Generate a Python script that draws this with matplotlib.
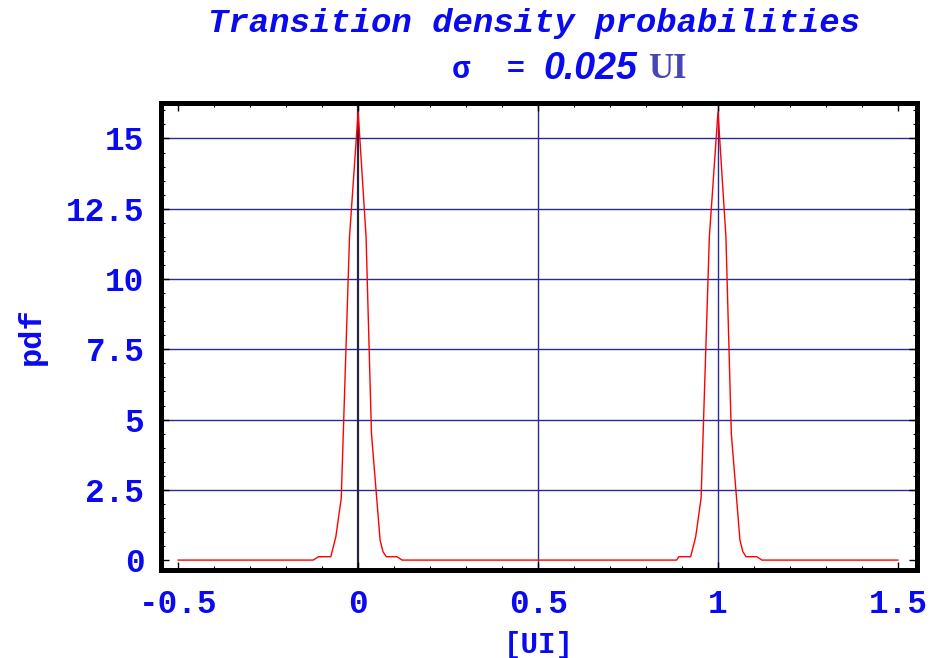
import matplotlib
matplotlib.use('Agg')
import matplotlib.pyplot as plt
from matplotlib.ticker import MultipleLocator

# transition density (two peaks at 0 and 1 UI)
ui = [-0.5, -0.125, -0.11, -0.076, -0.062, -0.047, -0.024, 0.0, 0.022, 0.037,
      0.061, 0.069, 0.078, 0.108, 0.122,
      0.885, 0.891, 0.924, 0.938, 0.953, 0.976, 1.0, 1.022, 1.037,
      1.061, 1.069, 1.078, 1.108, 1.122, 1.5]
pdf = [0.0, 0.0, 0.12, 0.12, 0.83, 2.2, 11.5, 15.95, 11.5, 4.5,
       0.71, 0.3, 0.12, 0.12, 0.0,
       0.0, 0.12, 0.12, 0.83, 2.2, 11.5, 15.95, 11.5, 4.5,
       0.71, 0.3, 0.12, 0.12, 0.0, 0.0]

x_ticks = [-0.5, 0, 0.5, 1, 1.5]
x_tick_labels = ['-0.5', '0', '0.5', '1', '1.5']
y_ticks = [0, 2.5, 5, 7.5, 10, 12.5, 15]
y_tick_labels = ['0', '2.5', '5', '7.5', '10', '12.5', '15']
h_grid = [2.5, 5, 7.5, 10, 12.5, 15]
v_grid = [0.5, 1]

blue = '#0a0af0'
mono = 'Liberation Mono'

fig = plt.figure(figsize=(9.32, 6.58), dpi=100)
ax = fig.add_axes([0.1727, 0.1330, 0.8112, 0.7112])

for y in h_grid:
    ax.axhline(y, color='#2a2a90', lw=1.0, zorder=1)
for x in v_grid:
    ax.axvline(x, color='#2a2a90', lw=1.0, zorder=1)
ax.axvline(0, color='#262640', lw=1.6, zorder=1)

ax.plot(ui, pdf, color='red', lw=1.0, zorder=3)

ax.set_xlim(-0.548, 1.553)
ax.set_ylim(-0.37, 16.28)
ax.set_xticks(x_ticks)
ax.set_xticklabels(x_tick_labels)
ax.set_yticks(y_ticks)
ax.set_yticklabels(y_tick_labels)
ax.xaxis.set_minor_locator(MultipleLocator(0.1))
ax.yaxis.set_minor_locator(MultipleLocator(0.5))
ax.tick_params(which='both', direction='in', top=True, right=True, color='black')
ax.tick_params(axis='x', which='major', length=6, width=1, pad=13)
ax.tick_params(axis='y', which='major', length=6, width=1, pad=12)
ax.tick_params(which='minor', length=3, width=0.8)
for lab in ax.get_xticklabels() + ax.get_yticklabels():
    lab.set_family(mono)
    lab.set_weight('bold')
    lab.set_color(blue)
    lab.set_fontsize(23.5)
for s in ax.spines.values():
    s.set_linewidth(3.6)
    s.set_color('black')

ax.set_xlabel('[UI]', family=mono, weight='bold', color=blue, fontsize=21, labelpad=8)
ax.set_ylabel('pdf', family=mono, weight='bold', color=blue, fontsize=23, labelpad=14)

fig.text(0.573, 0.964, 'Transition density probabilities', family=mono, weight='bold',
         style='italic', color=blue, fontsize=24.5, ha='center', va='center')
fig.text(452 / 932, 0.893, '\u03c3  =', family=mono, weight='bold', color=blue,
         fontsize=22, ha='left', va='center')
fig.text(543 / 932, 0.895, '0.025', family='Liberation Sans', weight='bold',
         style='italic', color=blue, fontsize=27, ha='left', va='center')
fig.text(648 / 932, 0.895, 'UI', family='Liberation Serif', weight='bold',
         color='#4646b4', fontsize=25, ha='left', va='center')

fig.savefig('out.png', dpi=100)
